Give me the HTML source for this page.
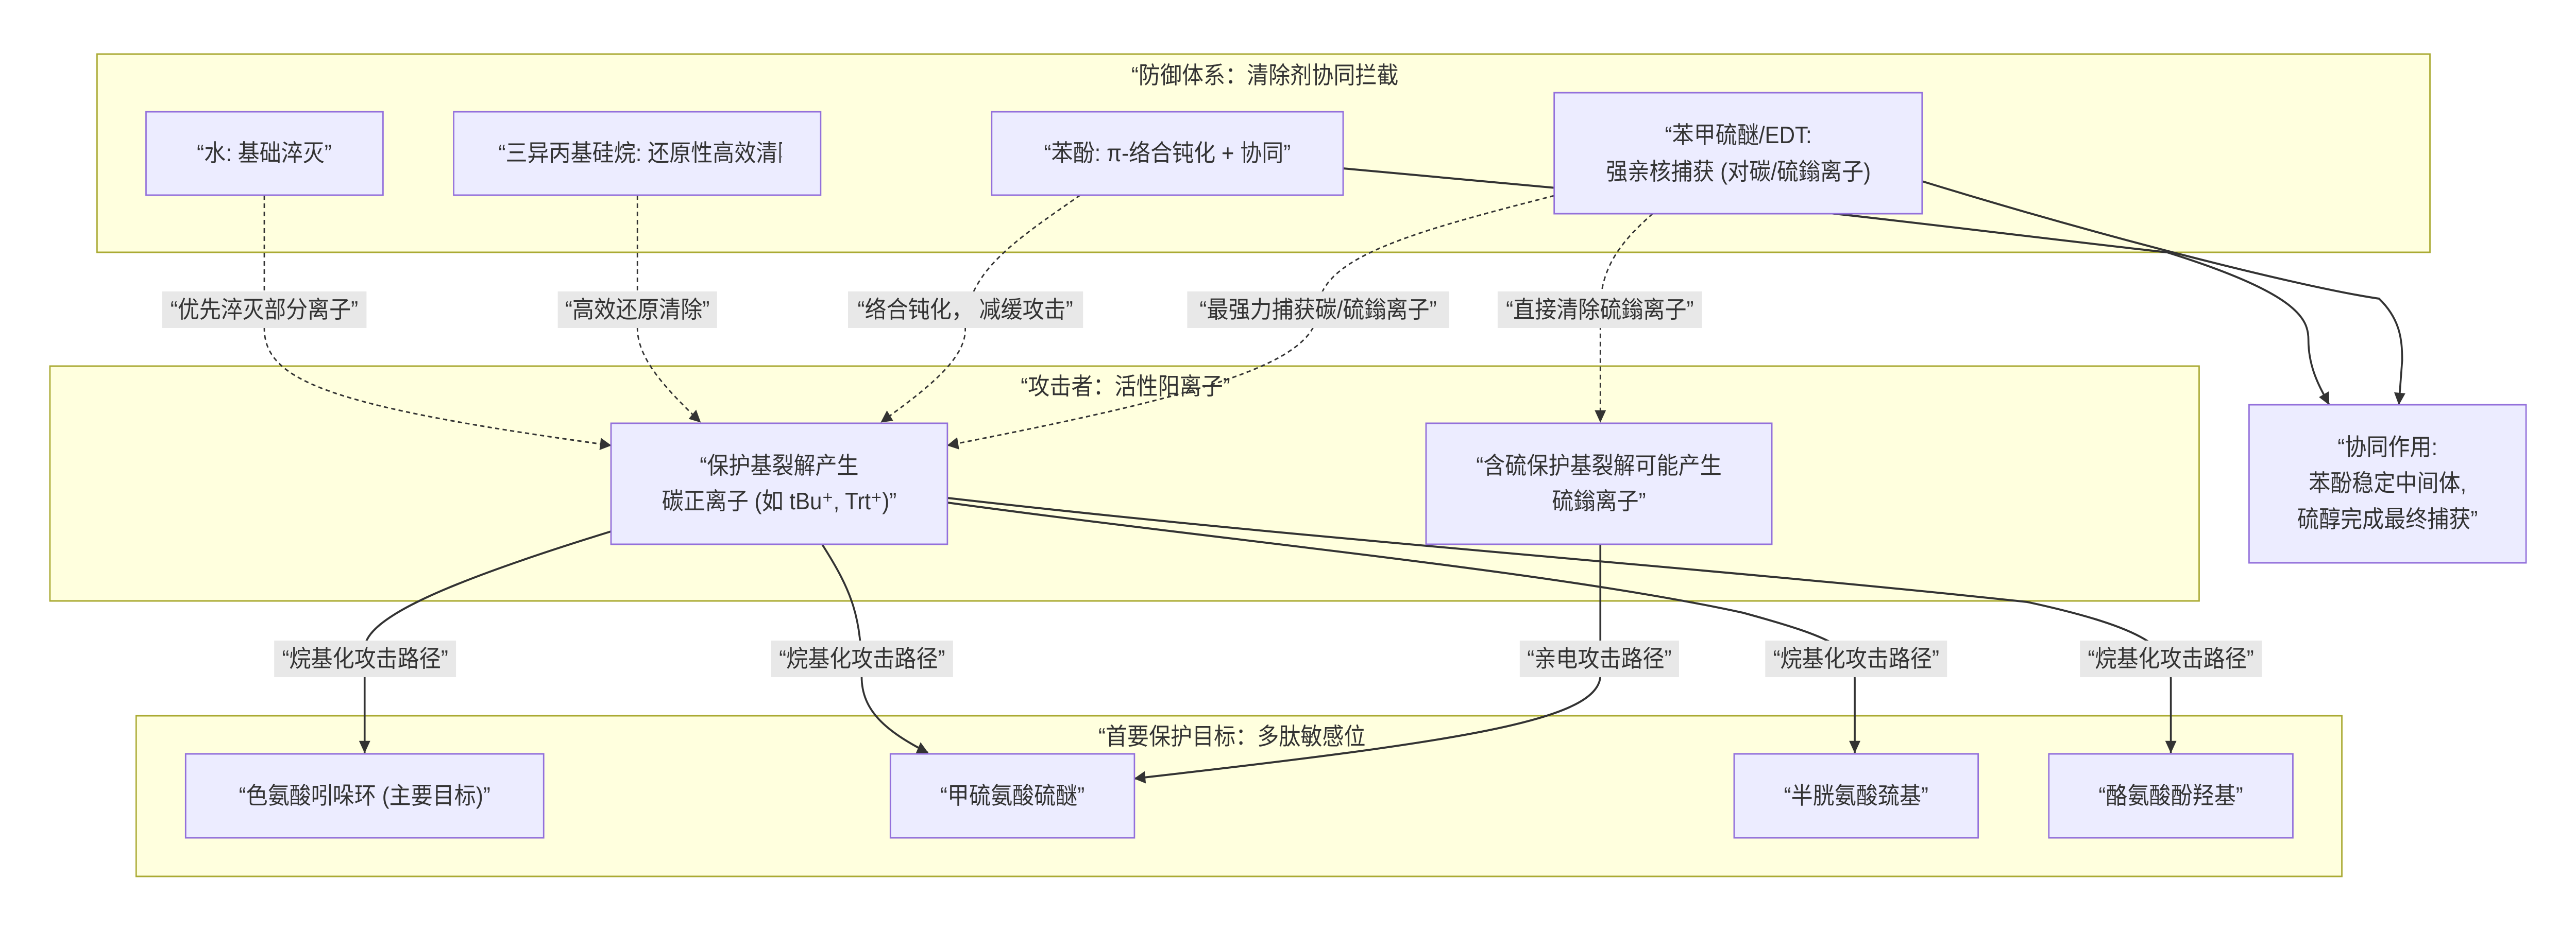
<!DOCTYPE html>
<html><head><meta charset="utf-8"><style>
html,body{margin:0;padding:0;background:#fff;overflow:hidden;width:100vw;height:100vh;}
svg{display:block;width:100vw;height:100vh;}
text{font-family:"Liberation Sans","Noto Sans CJK SC",sans-serif;font-size:46px;fill:#333;}
.c{fill:#ffffde;stroke:#aaaa33;stroke-width:3;}
.n{fill:#ececff;stroke:#9370db;stroke-width:3;}
.l{fill:#e8e8e8;}
.e{fill:none;stroke:#333;stroke-width:4;}
.d{fill:none;stroke:#333;stroke-width:3;stroke-dasharray:9 7;}
</style></head><body>
<svg viewBox="0 0 5468 1808" preserveAspectRatio="none" xmlns="http://www.w3.org/2000/svg">
<defs>
<marker id="a" viewBox="0 0 10 10" refX="9" refY="5" markerWidth="8" markerHeight="8" markerUnits="userSpaceOnUse" orient="auto" style="overflow:visible"><path d="M0,0 L10,5 L0,10 z" fill="#333" transform="scale(3)" transform-origin="10 5"/></marker>
<clipPath id="tc"><rect x="963" y="217" width="697" height="162"/></clipPath>
</defs>
<rect class="c" x="206" y="105" width="4952" height="385"/>
<rect class="c" x="106" y="711" width="4562" height="456"/>
<rect class="c" x="289" y="1390" width="4682" height="312"/>
<text x="2685" y="147" text-anchor="middle" dominant-baseline="central">“防御体系：清除剂协同拦截</text>
<text x="2389" y="751" text-anchor="middle" dominant-baseline="central">“攻击者：活性阳离子”</text>
<text x="2615" y="1431" text-anchor="middle" dominant-baseline="central">“首要保护目标：多肽敏感位</text>

<path class="d" d="M561 379 L561 637 C561 740 700 790 1297 865" marker-end="url(#a)"/>
<path class="d" d="M1353 379 L1353 637 C1353 700 1420 760 1487 820" marker-end="url(#a)"/>
<path class="d" d="M2293 379 C2150 470 2049 530 2049 640 C2049 700 1960 760 1870 820" marker-end="url(#a)"/>
<path class="d" d="M3299 380 C3000 450 2800 500 2798 600 C2795 700 2600 760 2011 865" marker-end="url(#a)"/>
<path class="d" d="M3508 415 C3440 470 3397 520 3397 600 L3397 820" marker-end="url(#a)"/>
<path class="e" d="M2851 327 L3600 390 C3800 400 4300 460 4600 490 C4880 570 4900 620 4900 660 C4900 720 4930 760 4944 786" marker-end="url(#a)"/>
<path class="e" d="M4080 352 C4500 470 4900 560 5050 580 C5095 620 5099 660 5099 700 L5092 786" marker-end="url(#a)"/>
<path class="e" d="M1297 1032 C950 1130 774 1200 774 1260 L774 1462" marker-end="url(#a)"/>
<path class="e" d="M1745 1057 C1810 1150 1829 1200 1829 1314 C1829 1380 1880 1420 1970 1462" marker-end="url(#a)"/>
<path class="e" d="M3397 1057 L3397 1314 C3390 1400 3100 1440 2408 1512" marker-end="url(#a)"/>
<path class="e" d="M2011 976 C2600 1050 3300 1110 3700 1190 C3900 1240 3937 1260 3937 1320 L3937 1462" marker-end="url(#a)"/>
<path class="e" d="M2011 967 C2800 1050 3600 1100 4303 1169 C4560 1220 4608 1260 4608 1320 L4608 1462" marker-end="url(#a)"/>

<rect class="l" x="344" y="566" width="434" height="71"/><text x="561" y="602" text-anchor="middle" dominant-baseline="central">“优先淬灭部分离子”</text>
<rect class="l" x="1184" y="566" width="338" height="71"/><text x="1353" y="602" text-anchor="middle" dominant-baseline="central">“高效还原清除”</text>
<rect class="l" x="1800" y="566" width="499" height="71"/><text x="2049" y="602" text-anchor="middle" dominant-baseline="central">“络合钝化， 减缓攻击”</text>
<rect class="l" x="2520" y="566" width="556" height="71"/><text x="2798" y="602" text-anchor="middle" dominant-baseline="central">“最强力捕获碳/硫鎓离子”</text>
<rect class="l" x="3179" y="566" width="434" height="71"/><text x="3396" y="602" text-anchor="middle" dominant-baseline="central">“直接清除硫鎓离子”</text>
<rect class="l" x="582" y="1244" width="386" height="71"/><text x="775" y="1280" text-anchor="middle" dominant-baseline="central">“烷基化攻击路径”</text>
<rect class="l" x="1637" y="1244" width="386" height="71"/><text x="1830" y="1280" text-anchor="middle" dominant-baseline="central">“烷基化攻击路径”</text>
<rect class="l" x="3226" y="1244" width="338" height="71"/><text x="3395" y="1280" text-anchor="middle" dominant-baseline="central">“亲电攻击路径”</text>
<rect class="l" x="3747" y="1244" width="386" height="71"/><text x="3940" y="1280" text-anchor="middle" dominant-baseline="central">“烷基化攻击路径”</text>
<rect class="l" x="4415" y="1244" width="386" height="71"/><text x="4608" y="1280" text-anchor="middle" dominant-baseline="central">“烷基化攻击路径”</text>

<rect class="n" x="310" y="217" width="503" height="162"/><text x="561" y="298" text-anchor="middle" dominant-baseline="central">“水: 基础淬灭”</text>
<rect class="n" x="963" y="217" width="779" height="162"/><text x="1058" y="298" dominant-baseline="central" clip-path="url(#tc)">“三异丙基硅烷: 还原性高效清除”</text>
<rect class="n" x="2105" y="217" width="746" height="162"/><text x="2478" y="298" text-anchor="middle" dominant-baseline="central">“苯酚: π-络合钝化 + 协同”</text>
<rect class="n" x="3299" y="180" width="781" height="235"/><text x="3690" y="263" text-anchor="middle" dominant-baseline="central">“苯甲硫醚/EDT:</text><text x="3690" y="334" text-anchor="middle" dominant-baseline="central">强亲核捕获 (对碳/硫鎓离子)</text>
<rect class="n" x="1297" y="822" width="714" height="235"/><text x="1654" y="905" text-anchor="middle" dominant-baseline="central">“保护基裂解产生</text><text x="1654" y="974" text-anchor="middle" dominant-baseline="central">碳正离子 (如 tBu⁺, Trt⁺)”</text>
<rect class="n" x="3027" y="822" width="734" height="235"/><text x="3394" y="905" text-anchor="middle" dominant-baseline="central">“含硫保护基裂解可能产生</text><text x="3394" y="974" text-anchor="middle" dominant-baseline="central">硫鎓离子”</text>
<rect class="n" x="4774" y="786" width="588" height="307"/><text x="5068" y="869" text-anchor="middle" dominant-baseline="central">“协同作用:</text><text x="5068" y="939" text-anchor="middle" dominant-baseline="central">苯酚稳定中间体,</text><text x="5068" y="1009" text-anchor="middle" dominant-baseline="central">硫醇完成最终捕获”</text>
<rect class="n" x="394" y="1464" width="760" height="163"/><text x="774" y="1546" text-anchor="middle" dominant-baseline="central">“色氨酸吲哚环 (主要目标)”</text>
<rect class="n" x="1890" y="1464" width="518" height="163"/><text x="2149" y="1546" text-anchor="middle" dominant-baseline="central">“甲硫氨酸硫醚”</text>
<rect class="n" x="3681" y="1464" width="518" height="163"/><text x="3940" y="1546" text-anchor="middle" dominant-baseline="central">“半胱氨酸巯基”</text>
<rect class="n" x="4349" y="1464" width="518" height="163"/><text x="4608" y="1546" text-anchor="middle" dominant-baseline="central">“酪氨酸酚羟基”</text>
</svg>
</body></html>
